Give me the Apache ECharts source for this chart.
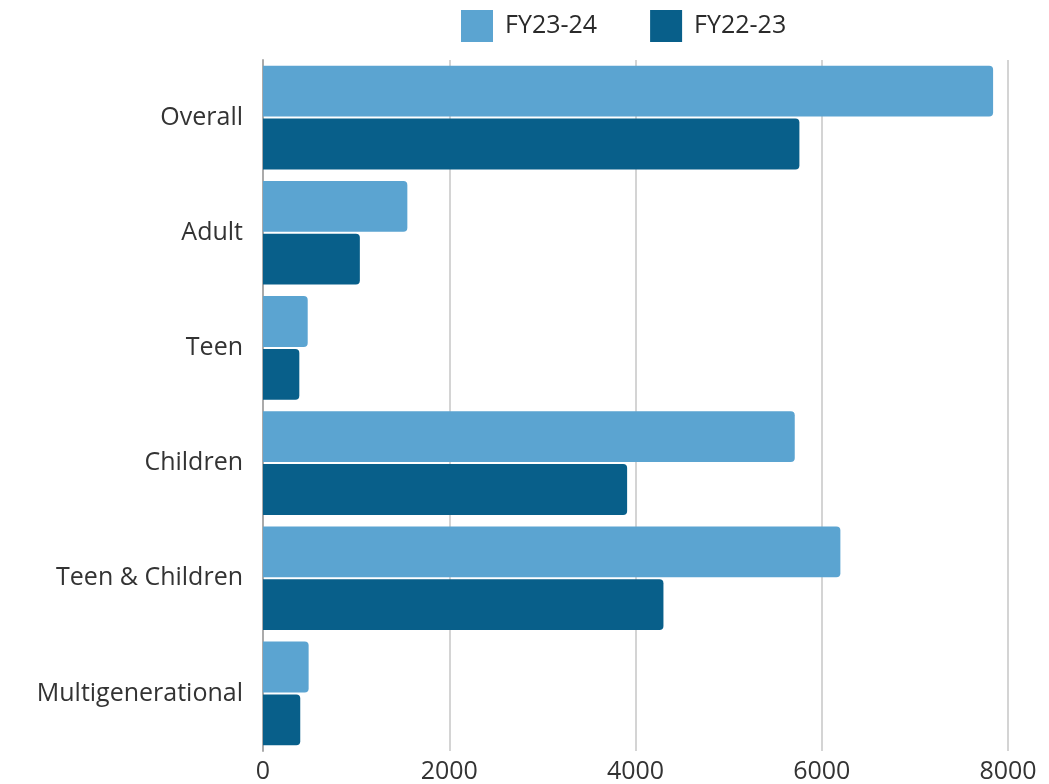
<!DOCTYPE html>
<html><head><meta charset="utf-8">
<script src="https://cdn.jsdelivr.net/npm/echarts@6/dist/echarts.min.js"></script>
<style>html,body{margin:0;padding:0;background:#fff}#c{width:1049px;height:784px}</style>
</head><body><div id="c"></div>
<script>
const categories = ["Overall","Adult","Teen","Children","Teen & Children","Multigenerational"];
const fy2324 = [7840,1550,480,5710,6200,490];
const fy2223 = [5760,1040,390,3910,4300,400];
const xTicks = {min:0,max:8000,interval:2000};
const FONT = "Open Sans";
const chart = echarts.init(document.getElementById('c'));
chart.setOption({
  animation:false,
  textStyle:{fontFamily:FONT},
  legend:{top:5,left:456,itemWidth:32,itemHeight:32,itemGap:53,icon:'rect',
    textStyle:{fontSize:25,color:'#2a2a2a',fontFamily:FONT,padding:[0,0,0,7]},
    data:['FY23-24','FY22-23']},
  grid:{left:263,right:41,top:60,bottom:32,containLabel:false},
  xAxis:{type:'value',min:xTicks.min,max:xTicks.max,interval:xTicks.interval,
    axisLine:{show:false},axisTick:{show:false},
    axisLabel:{fontSize:25,color:'#333',margin:8,fontFamily:FONT,formatter:v=>String(v)},
    splitLine:{lineStyle:{color:'#d4d4d4',width:2}}},
  yAxis:{type:'category',inverse:true,data:categories,
    axisLine:{show:true,lineStyle:{color:'#aaa',width:2}},axisTick:{show:false},
    axisLabel:{fontSize:25,color:'#333',margin:20,fontFamily:FONT}},
  series:[
    {name:'FY23-24',type:'bar',data:fy2324,barGap:'4%',barCategoryGap:'10%',
      itemStyle:{color:'#5BA4D1',borderRadius:[0,4,4,0]}},
    {name:'FY22-23',type:'bar',data:fy2223,barGap:'4%',barCategoryGap:'10%',
      itemStyle:{color:'#085F8A',borderRadius:[0,4,4,0]}}
  ]
});
</script></body></html>
